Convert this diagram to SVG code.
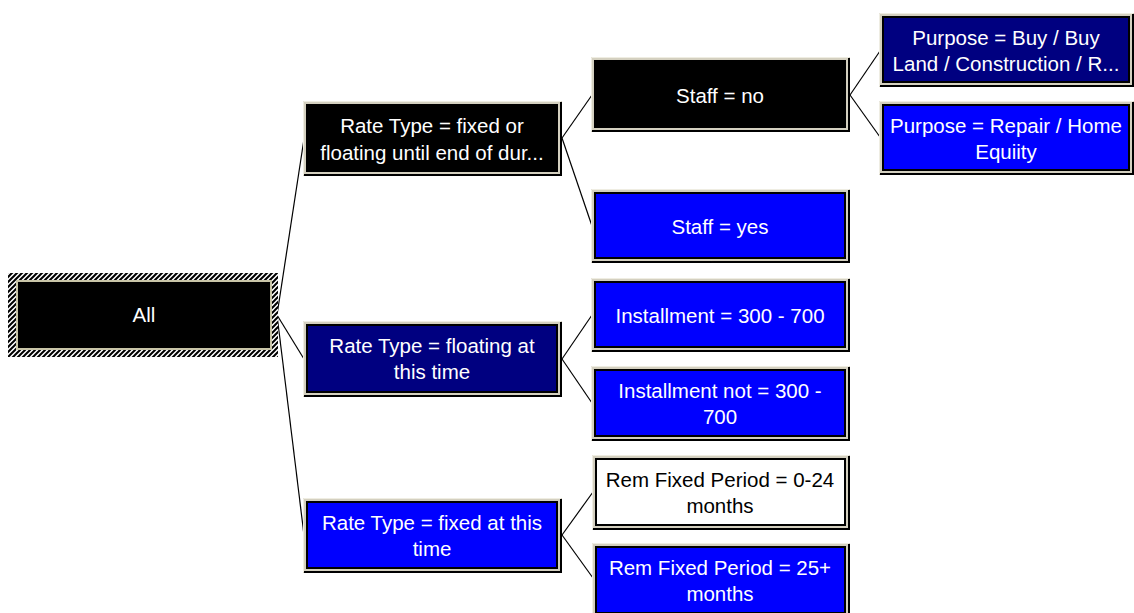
<svg xmlns="http://www.w3.org/2000/svg" width="1134" height="613" viewBox="0 0 1134 613">
<defs>
<pattern id="hatch" patternUnits="userSpaceOnUse" width="5" height="5">
<rect width="5" height="5" fill="#ffffff"/>
<path d="M-1 6 L6 -1 M-1 1 L1 -1 M4 6 L6 4" stroke="#000" stroke-width="2"/>
</pattern>
</defs>
<style>
.frame{fill:#d4d0c0}
.hl{fill:none;stroke:#efede2;stroke-width:1}
.sh{fill:none;stroke:#000;stroke-width:2}
.body{stroke:#000;stroke-width:2}
.blk{fill:#000}
.nav{fill:#000080}
.blu{fill:#0000ff}
.wht{fill:#ffffff}
text{font-family:"Liberation Sans",Arial,sans-serif;font-size:20.5px;text-anchor:middle;fill:#fff}
text.dark{fill:#000}
.conn line{stroke:#000;stroke-width:1.2}
</style>
<rect width="1134" height="613" fill="#fff"/>
<g class="conn" id="connectors">
<line x1="277" y1="315" x2="304" y2="139"/>
<line x1="277" y1="315" x2="304" y2="359"/>
<line x1="277" y1="315" x2="304" y2="535"/>
<line x1="562" y1="138" x2="592" y2="95"/>
<line x1="562" y1="138" x2="592" y2="226"/>
<line x1="850" y1="95" x2="880" y2="51"/>
<line x1="850" y1="95" x2="880" y2="137"/>
<line x1="562" y1="359" x2="592" y2="315"/>
<line x1="562" y1="359" x2="592" y2="403"/>
<line x1="562" y1="535" x2="593" y2="492"/>
<line x1="562" y1="535" x2="593" y2="578"/>
</g>
<g id="n-all">
<rect x="8" y="273" width="270" height="84" fill="url(#hatch)"/>
<rect x="17" y="281" width="254" height="68" fill="#000" stroke="#c9c5a8" stroke-width="2"/>
<text x="144" y="322">All</text>
</g>
<g id="n-fixed-or-floating">
<rect class="frame" x="303" y="101" width="259" height="75"/>
<path class="hl" d="M303.5 175 V101.5 H561"/>
<path class="sh" d="M561 102 V175 H304"/>
<rect class="body blk" x="307" y="105" width="250" height="66"/>
<text x="432" y="133">Rate Type = fixed or</text>
<text x="432" y="160">floating until end of dur...</text>
</g>
<g id="n-floating">
<rect class="frame" x="303" y="321" width="259" height="76"/>
<path class="hl" d="M303.5 396 V321.5 H561"/>
<path class="sh" d="M561 322 V396 H304"/>
<rect class="body nav" x="307" y="325" width="250" height="67"/>
<text x="432" y="353">Rate Type = floating at</text>
<text x="432" y="379">this time</text>
</g>
<g id="n-fixed">
<rect class="frame" x="303" y="498" width="259" height="75"/>
<path class="hl" d="M303.5 572 V498.5 H561"/>
<path class="sh" d="M561 499 V572 H304"/>
<rect class="body blu" x="307" y="502" width="250" height="66"/>
<text x="432" y="530">Rate Type = fixed at this</text>
<text x="432" y="556">time</text>
</g>
<g id="n-staff-no">
<rect class="frame" x="591" y="57" width="259" height="75"/>
<path class="hl" d="M591.5 131 V57.5 H849"/>
<path class="sh" d="M849 58 V131 H592"/>
<rect class="body blk" x="595" y="61" width="250" height="66"/>
<text x="720" y="103">Staff = no</text>
</g>
<g id="n-staff-yes">
<rect class="frame" x="591" y="189" width="259" height="74"/>
<path class="hl" d="M591.5 262 V189.5 H849"/>
<path class="sh" d="M849 190 V262 H592"/>
<rect class="body blu" x="595" y="193" width="250" height="65"/>
<text x="720" y="234">Staff = yes</text>
</g>
<g id="n-inst">
<rect class="frame" x="591" y="278" width="259" height="74"/>
<path class="hl" d="M591.5 351 V278.5 H849"/>
<path class="sh" d="M849 279 V351 H592"/>
<rect class="body blu" x="595" y="282" width="250" height="65"/>
<text x="720" y="323">Installment = 300 - 700</text>
</g>
<g id="n-inst-not">
<rect class="frame" x="591" y="366" width="259" height="75"/>
<path class="hl" d="M591.5 440 V366.5 H849"/>
<path class="sh" d="M849 367 V440 H592"/>
<rect class="body blu" x="595" y="370" width="250" height="66"/>
<text x="720" y="398">Installment not = 300 -</text>
<text x="720" y="424">700</text>
</g>
<g id="n-rem-0-24">
<rect class="frame" x="592" y="455" width="258" height="75"/>
<path class="hl" d="M592.5 529 V455.5 H849"/>
<path class="sh" d="M849 456 V529 H593"/>
<rect class="body wht" x="596" y="459" width="249" height="66"/>
<text class="dark" x="720" y="487">Rem Fixed Period = 0-24</text>
<text class="dark" x="720" y="513">months</text>
</g>
<g id="n-rem-25">
<rect class="frame" x="592" y="543" width="258" height="75"/>
<path class="hl" d="M592.5 617 V543.5 H849"/>
<path class="sh" d="M849 544 V617 H593"/>
<rect class="body blu" x="596" y="547" width="249" height="66"/>
<text x="720" y="575">Rem Fixed Period = 25+</text>
<text x="720" y="601">months</text>
</g>
<g id="n-purpose-buy">
<rect class="frame" x="879" y="13" width="255" height="74"/>
<path class="hl" d="M879.5 86 V13.5 H1133"/>
<path class="sh" d="M1133 14 V86 H880"/>
<rect class="body nav" x="883" y="17" width="246" height="65"/>
<text x="1006" y="45">Purpose = Buy / Buy</text>
<text x="1006" y="71">Land / Construction / R...</text>
</g>
<g id="n-purpose-repair">
<rect class="frame" x="879" y="101" width="255" height="74"/>
<path class="hl" d="M879.5 174 V101.5 H1133"/>
<path class="sh" d="M1133 102 V174 H880"/>
<rect class="body blu" x="883" y="105" width="246" height="65"/>
<text x="1006" y="133">Purpose = Repair / Home</text>
<text x="1006" y="159">Equiity</text>
</g>
</svg>
